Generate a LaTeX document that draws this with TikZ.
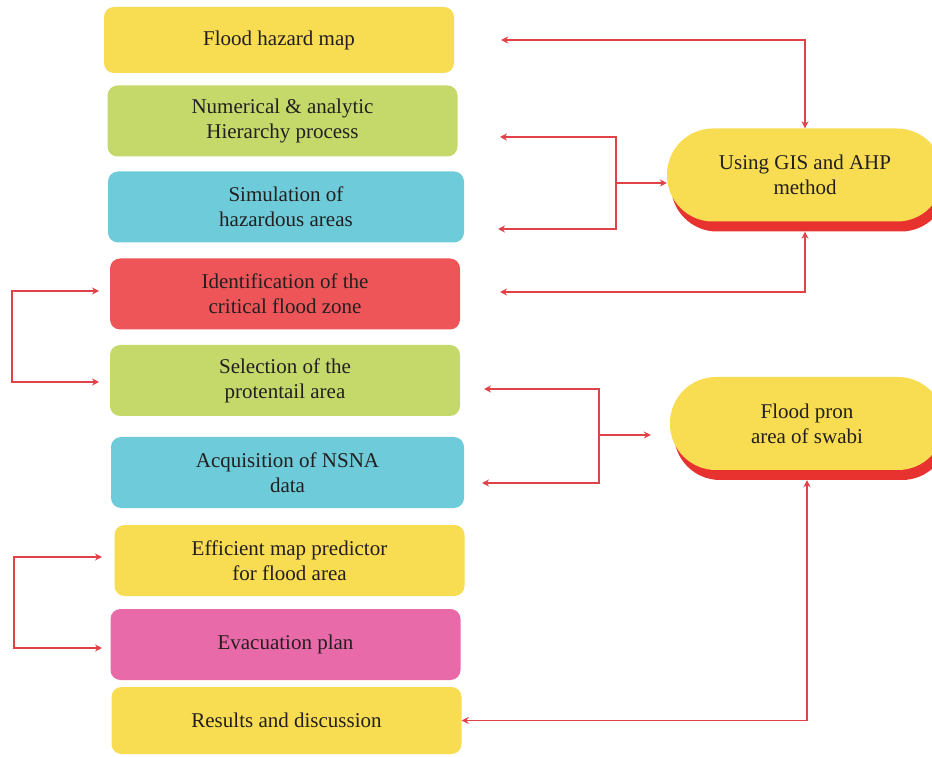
\documentclass[tikz,border=0pt]{standalone}
\usepackage{fontspec}
\setmainfont{Liberation Serif}
\usetikzlibrary{arrows.meta,shadows}

\definecolor{boxyellow}{RGB}{248,220,82}
\definecolor{boxgreen}{RGB}{196,217,106}
\definecolor{boxcyan}{RGB}{110,203,217}
\definecolor{boxred}{RGB}{238,85,88}
\definecolor{boxpink}{RGB}{232,106,168}
\definecolor{shadowred}{RGB}{232,50,48}
\definecolor{linered}{RGB}{225,66,72}
\definecolor{textdark}{RGB}{35,31,32}

\begin{document}
\begin{tikzpicture}
   [x=1pt,y=1pt,>={Stealth[length=7pt,width=7pt]},
    every node/.style={text=textdark,font=\fontsize{21}{25}\selectfont,align=center},
    stepbox/.style={rounded corners=10pt,minimum width=350pt,minimum height=71pt,inner sep=0pt},
    pill/.style={rounded corners=46pt,minimum width=276pt,minimum height=93pt,inner sep=0pt,fill=boxyellow,
      drop shadow={shadow xshift=4pt,shadow yshift=-10pt,fill=shadowred,opacity=1}},
    link/.style={draw=linered,line width=1.6pt}]

  \useasboundingbox (0,0) rectangle (932,756);
  \clip (0,0) rectangle (932,756);

  \node[stepbox,fill=boxyellow,minimum height=66pt] (b1) at (279,716)   {Flood hazard map};
  \node[stepbox,fill=boxgreen]  (b2) at (282.5,635)   {Numerical \& analytic\\Hierarchy process};
  \node[stepbox,fill=boxcyan,minimum width=356pt] (b3) at (286,549) {Simulation of\\hazardous areas};
  \node[stepbox,fill=boxred]    (b4) at (285,462)     {Identification of the\\critical flood zone};
  \node[stepbox,fill=boxgreen]  (b5) at (285,375.5)   {Selection of the\\protentail area};
  \node[stepbox,fill=boxcyan,minimum width=353pt] (b6) at (287.5,283.5) {Acquisition of NSNA\\data};
  \node[stepbox,fill=boxyellow] (b7) at (289.5,195.5) {Efficient map predictor\\for flood area};
  \node[stepbox,fill=boxpink]   (b8) at (285.5,111.5) {Evacuation plan};
  \node[stepbox,fill=boxyellow,minimum height=67pt] (b9) at (286.5,35.5) {Results and discussion};

  \node[pill] (s1) at (805,581)   {Using GIS and AHP\\method};
  \node[pill,minimum width=274pt] (s2) at (807,332.5) {Flood pron\\area of swabi};

  \coordinate (j1) at (616,573);
  \coordinate (t2) at (500,619);
  \coordinate (t3) at (498,527);
  \coordinate (t4) at (500,464);
  \coordinate (j2) at (599,321);
  \coordinate (t5) at (484,367);
  \coordinate (t6) at (482,273);
  \coordinate (l1) at (99,465);
  \coordinate (l2) at (99,374);
  \coordinate (l3) at (102,199);
  \coordinate (l4) at (102,108);

  \draw[link,<->,shorten <=47pt] (b1.east) -| (s1.north);
  \draw[link,->] (j1) -- (j1 -| s1.west);
  \foreach \tip in {t2,t3}
    \draw[link,->] (j1) |- (\tip);
  \draw[link,<->] (t4) -| ([yshift=-10pt]s1.south);

  \draw[link,->,shorten >=19pt] (j2) -- (j2 -| s2.west);
  \foreach \tip in {t5,t6}
    \draw[link,->] (j2) |- (\tip);
  \draw[link,<->] (b9.east) -| ([yshift=-10pt]s2.south);

  \draw[link,<->] (l1) -- ++(-87,0) |- (l2);
  \draw[link,<->] (l3) -- ++(-88,0) |- (l4);

\end{tikzpicture}
\end{document}
